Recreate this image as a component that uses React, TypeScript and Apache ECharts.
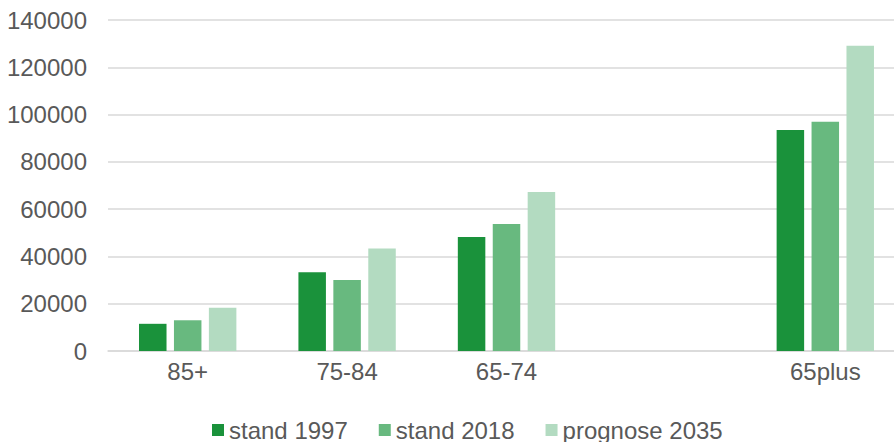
import React, { useEffect, useRef } from "react";
import * as echarts from "echarts";

const categories = ["85+", "75-84", "65-74", "", "65plus"];
const stand1997 = [11500, 33300, 48200, null, 93500];
const stand2018 = [13000, 30000, 53700, null, 97000];
const prognose2035 = [18300, 43400, 67200, null, 129100];
const seriesNames = ["stand 1997", "stand 2018", "prognose 2035"];
const colors = ["#1a923b", "#68b97f", "#b3dbc1"];

const FONT = "'Liberation Sans', Arial, sans-serif";

export default function App() {
  const ref = useRef<HTMLDivElement>(null);
  useEffect(() => {
    if (!ref.current) return;
    const chart = echarts.init(ref.current, undefined, { renderer: "svg" });
    const data = [stand1997, stand2018, prognose2035];
    chart.setOption({
      animation: false,
      color: colors,
      textStyle: { fontFamily: FONT },
      grid: { left: 108, top: 20, width: 797, bottom: 91, containLabel: false },
      legend: {
        data: seriesNames,
        left: 212,
        top: 418,
        padding: 0,
        itemWidth: 12,
        itemHeight: 12,
        itemGap: 31,
        icon: "rect",
        textStyle: { fontSize: 24, color: "#595959", fontFamily: FONT, padding: [0, 0, 0, 0] },
      },
      xAxis: {
        type: "category",
        data: categories,
        axisTick: { show: false },
        axisLine: { lineStyle: { color: "#d9d9d9", width: 1.5 } },
        axisLabel: { fontSize: 24, color: "#595959", margin: 8, fontFamily: FONT },
      },
      yAxis: {
        type: "value",
        min: 0,
        max: 140000,
        interval: 20000,
        axisLine: { show: false },
        axisTick: { show: false },
        splitLine: { lineStyle: { color: "#d9d9d9", width: 1.5 } },
        axisLabel: {
          fontSize: 24,
          color: "#595959",
          margin: 21,
          fontFamily: FONT,
          formatter: (v: number) => String(v),
        },
      },
      series: seriesNames.map((name, i) => ({
        name,
        type: "bar",
        data: data[i],
        barWidth: 27.5,
        barGap: "27%",
        itemStyle: { color: colors[i] },
      })),
    });
    return () => chart.dispose();
  }, []);
  return (
    <div style={{ width: 894, height: 442, position: "absolute", left: 0, top: 0, overflow: "hidden" }}>
      <div ref={ref} style={{ width: 912, height: 442 }} />
    </div>
  );
}
